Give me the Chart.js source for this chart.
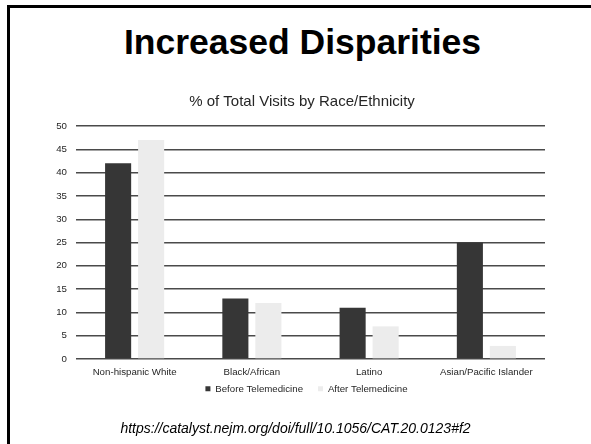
<!DOCTYPE html>
<html>
<head>
<meta charset="utf-8">
<script src="https://cdn.jsdelivr.net/npm/chart.js@4/dist/chart.umd.min.js"></script>
<style>
  html, body { margin: 0; padding: 0; background: #fff; }
  #page { position: relative; width: 591px; height: 444px; overflow: hidden; background: #fff; font-family: "Liberation Sans", Arial, sans-serif; }
  #frame { position: absolute; left: 7px; top: 5px; width: 700px; height: 600px; border-left: 3px solid #000; border-top: 3px solid #000; box-sizing: border-box; }
  #title { position: absolute; left: 7px; width: 591px; top: 25px; text-align: center; font-weight: bold; font-size: 35.5px; line-height: 35.5px; color: #000; }
  #source { position: absolute; left: 0; width: 591px; top: 421px; text-align: center; font-style: italic; font-size: 14px; line-height: 14px; color: #000; }
  #wrap { position: absolute; left: 0; top: 0; width: 591px; height: 444px; }
</style>
</head>
<body>
<div id="page">
  <div id="frame"></div>
  <div id="title">Increased Disparities</div>
  <div id="wrap"><canvas id="c" width="591" height="444"></canvas></div>
  <div id="source">https://catalyst.nejm.org/doi/full/10.1056/CAT.20.0123#f2</div>
</div>
<script>
const chartTitle = "% of Total Visits by Race/Ethnicity";
const categories = ["Non-hispanic White", "Black/African", "Latino", "Asian/Pacific Islander"];
const seriesNames = ["Before Telemedicine", "After Telemedicine"];
const beforeValues = [42, 13, 11, 25];
const afterValues = [47, 12, 7, 2.8];
const yTicks = [0, 5, 10, 15, 20, 25, 30, 35, 40, 45, 50];

const tickFont = { family: "'Liberation Sans', Arial, sans-serif", size: 9.7 };

// Places the legend and chart title like the source slide
const boxPlacer = {
  id: 'boxPlacer',
  afterLayout(chart) {
    const lg = chart.legend;
    if (lg) {
      const h = lg.height;
      lg.top = 369;
      lg.bottom = 369 + h;
      lg.left += 16;
      lg.right += 16;
    }
    const tb = chart.titleBlock;
    if (tb) {
      tb.left += 11.5;
      tb.right += 11.5;
    }
  }
};

new Chart(document.getElementById('c'), {
  type: 'bar',
  data: {
    labels: categories,
    datasets: [
      { label: seriesNames[0], data: beforeValues, backgroundColor: '#363636', borderWidth: 0 },
      { label: seriesNames[1], data: afterValues, backgroundColor: '#ececec', borderWidth: 0 }
    ]
  },
  plugins: [boxPlacer],
  options: {
    responsive: false,
    animation: false,
    events: [],
    categoryPercentage: 0.563,
    barPercentage: 0.79,
    layout: { padding: { left: 36, right: 46, top: 0, bottom: 30.3 } },
    plugins: {
      title: {
        display: true,
        text: chartTitle,
        color: '#262626',
        font: { family: "'Liberation Sans', Arial, sans-serif", size: 15, weight: 'normal' },
        padding: { top: 93.3, bottom: 14.7 }
      },
      legend: {
        display: true,
        position: 'bottom',
        labels: {
          color: '#262626',
          font: tickFont,
          boxWidth: 5,
          boxHeight: 5,
          padding: 15
        }
      },
      tooltip: { enabled: false }
    },
    scales: {
      x: {
        grid: { display: false, drawTicks: false },
        border: { display: false },
        ticks: { color: '#262626', font: tickFont, padding: 8, maxRotation: 0 },
        afterFit(scale) { scale.height = 20; }
      },
      y: {
        min: 0,
        max: 50,
        afterBuildTicks(scale) { scale.ticks = yTicks.map(v => ({ value: v })); },
        grid: { color: '#4a4a4a', lineWidth: 1.4, drawTicks: false },
        border: { display: false },
        ticks: { color: '#262626', font: tickFont, padding: 9 },
        afterFit(scale) { scale.width = 40; }
      }
    }
  }
});
</script>
</body>
</html>
